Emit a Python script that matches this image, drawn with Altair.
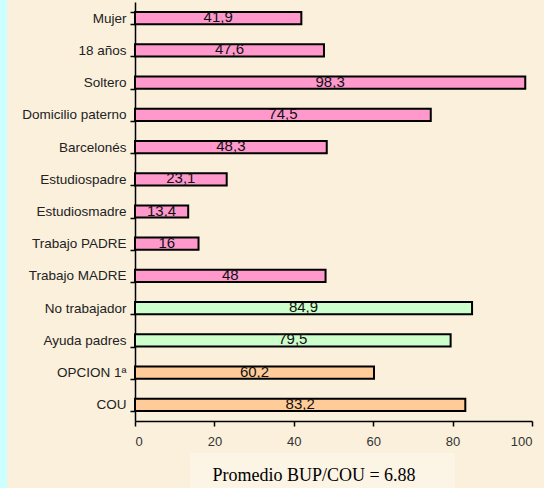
import altair as alt
import pandas as pd

# Percentages per student profile trait
categories = ["Mujer", "18 años", "Soltero", "Domicilio paterno", "Barcelonés",
              "Estudiospadre", "Estudiosmadre", "Trabajo PADRE", "Trabajo MADRE",
              "No trabajador", "Ayuda padres", "OPCION 1ª", "COU"]
values = [41.9, 47.6, 98.3, 74.5, 48.3, 23.1, 13.4, 16, 48, 84.9, 79.5, 60.2, 83.2]
groups = ["personal"] * 9 + ["trabajo"] * 2 + ["acceso"] * 2

group_names = ["personal", "trabajo", "acceso"]
group_colors = ["#FF99CC", "#CCFFCC", "#FFCC99"]

df = pd.DataFrame({
    "categoria": categories,
    "valor": values,
    "grupo": groups,
    "etiqueta": [f"{v:g}".replace(".", ",") for v in values],
})

y_enc = alt.Y("categoria:N", sort=categories, title=None,
              scale=alt.Scale(paddingInner=0.62, paddingOuter=0.31),
              axis=alt.Axis(tickBand="extent", domainColor="black", domainWidth=1.5,
                            tickColor="black", tickWidth=1.5, tickSize=5,
                            labelFont="Liberation Sans", labelFontSize=13.5,
                            labelColor="#222", labelPadding=4))
x_enc = alt.X("valor:Q", title=None,
              scale=alt.Scale(domain=[0, 100]),
              axis=alt.Axis(values=[0, 20, 40, 60, 80, 100], grid=False,
                            domainColor="black", domainWidth=1.5,
                            tickColor="black", tickWidth=1.5, tickSize=5,
                            labelFont="Liberation Sans", labelFontSize=13,
                            labelColor="#333", labelPadding=9))

# decorative strip on the left edge and a light panel behind the caption
strip = alt.Chart(pd.DataFrame({"k": [0]})).mark_rect(color="#CCFFFF").encode(
    x=alt.value(-135), x2=alt.value(-128), y=alt.value(-2), y2=alt.value(486))
panel = alt.Chart(pd.DataFrame({"k": [0]})).mark_rect(color="#FCF4E4").encode(
    x=alt.value(55), x2=alt.value(320), y=alt.value(451), y2=alt.value(486))

bars = alt.Chart(df).mark_bar(stroke="black", strokeWidth=2).encode(
    y=y_enc, x=x_enc,
    color=alt.Color("grupo:N", scale=alt.Scale(domain=group_names, range=group_colors),
                    legend=None))

labels = alt.Chart(df).transform_calculate(mid="datum.valor / 2").mark_text(
    font="Liberation Sans", fontSize=15, color="#111", dy=-1).encode(
    y=alt.Y("categoria:N", sort=categories),
    x=alt.X("mid:Q"),
    text="etiqueta:N")

caption = alt.Chart(pd.DataFrame({"t": ["Promedio BUP/COU = 6.88"]})).mark_text(
    font="Liberation Serif", fontSize=18, color="black").encode(
    x=alt.value(179), y=alt.value(474), text="t:N")

chart = alt.layer(strip, panel, bars, labels, caption).properties(
    width=397, height=419,
    background="#FAF0DC",
    padding={"left": 135, "top": 2, "right": 12, "bottom": 67},
    autosize=alt.AutoSizeParams(type="none"),
).configure_view(stroke=None)

chart.save("out.html", embed_options={"renderer": "svg", "actions": False})
